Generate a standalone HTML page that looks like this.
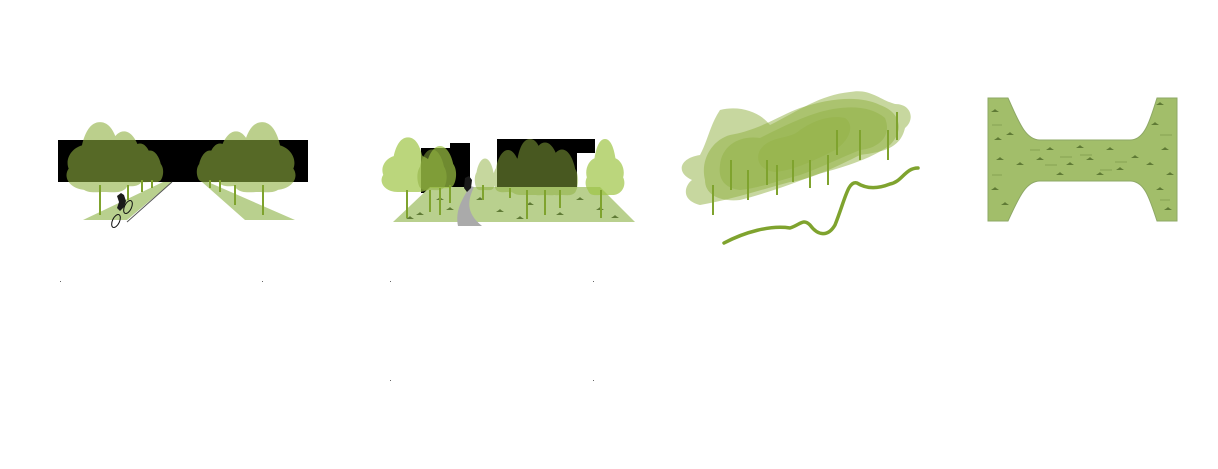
<!DOCTYPE html>
<html><head><meta charset="utf-8"><style>
html,body{margin:0;padding:0;background:#fff;width:1218px;height:469px;overflow:hidden}
svg{display:block}
</style></head><body>
<svg width="1218" height="469" viewBox="0 0 1218 469" xmlns="http://www.w3.org/2000/svg">
<defs>
<g id="tree">
 <path d="M0,-70 C12,-70 17,-55 19,-46 C30,-43 37,-32 33,-22 C40,-12 30,0 14,0 L-14,0 C-30,0 -40,-12 -33,-22 C-37,-32 -30,-43 -19,-46 C-17,-55 -12,-70 0,-70Z"/>
</g>
<g id="tree2">
 <path d="M0,-70 C14,-70 22,-50 24,-40 C32,-30 30,-12 24,-4 C18,2 8,0 0,0 C-8,0 -18,2 -24,-4 C-30,-12 -32,-30 -24,-40 C-22,-50 -14,-70 0,-70Z"/>
</g>
<g id="grass"><path d="M-4,0 L-1,-2 L0,-3 L1,-2 L4,0Z" fill="#5f7a35"/></g>
</defs>

<!-- Panel 1 -->
<rect x="58" y="140" width="250" height="42" fill="#000"/>
<polygon points="83,220 127,220 172,182 163,182" fill="#b9d08e"/>
<polygon points="202,182 208,182 295,220 245,220" fill="#b9d08e"/>
<line x1="127" y1="222" x2="172" y2="182" stroke="#555" stroke-width="1"/>
<g fill="#8fb040" opacity="0.6">
 <use href="#tree" transform="translate(100,190) scale(0.95,0.97)"/>
 <use href="#tree2" transform="translate(104,192) scale(0.9,0.85)"/>
 <use href="#tree2" transform="translate(124,186) scale(0.7,0.78)"/>
 <use href="#tree2" transform="translate(140,182) scale(0.5,0.55)"/>
 <use href="#tree2" transform="translate(150,182) scale(0.45,0.45)"/>
 <use href="#tree" transform="translate(262,190) scale(0.95,0.97)"/>
 <use href="#tree2" transform="translate(258,192) scale(0.9,0.85)"/>
 <use href="#tree2" transform="translate(236,186) scale(0.7,0.78)"/>
 <use href="#tree2" transform="translate(220,182) scale(0.5,0.55)"/>
 <use href="#tree2" transform="translate(210,182) scale(0.45,0.45)"/>
</g>
<g stroke="#7fa32e" stroke-width="2">
 <line x1="100" y1="185" x2="100" y2="215"/><line x1="128" y1="185" x2="128" y2="200"/>
 <line x1="142" y1="180" x2="142" y2="192"/><line x1="152" y1="180" x2="152" y2="188"/>
 <line x1="263" y1="185" x2="263" y2="215"/><line x1="235" y1="185" x2="235" y2="205"/>
 <line x1="220" y1="180" x2="220" y2="192"/><line x1="210" y1="180" x2="210" y2="188"/>
</g>
<g fill="none" stroke="#111" stroke-width="1">
 <ellipse cx="116" cy="221" rx="3.5" ry="7" transform="rotate(25 116 221)"/>
 <ellipse cx="128" cy="207" rx="3.5" ry="7" transform="rotate(25 128 207)"/>
</g>
<path d="M117,196 l4,-3 3,2 2,6 -2,6 -4,4 -3,-3 2,-6z" fill="#1a1a1a"/>

<!-- Panel 2 -->
<polygon points="421,148 450,148 450,143 470,143 470,193 421,193" fill="#000"/>
<polygon points="497,139 595,139 595,153 577,153 577,193 497,193" fill="#000"/>
<polygon points="393,222 635,222 600,187 430,187" fill="#b9d08e"/>
<g>
 <use href="#grass" transform="translate(420,215)"/><use href="#grass" transform="translate(450,210)"/>
 <use href="#grass" transform="translate(500,212)"/><use href="#grass" transform="translate(530,205)"/>
 <use href="#grass" transform="translate(560,215)"/><use href="#grass" transform="translate(600,210)"/>
 <use href="#grass" transform="translate(480,200)"/><use href="#grass" transform="translate(580,200)"/>
 <use href="#grass" transform="translate(520,219)"/><use href="#grass" transform="translate(440,200)"/>
 <use href="#grass" transform="translate(615,218)"/><use href="#grass" transform="translate(410,219)"/>
</g>
<path d="M458,226 C455,210 462,200 470,186 L474,187 C468,200 465,212 482,226Z" fill="#aaa"/>
<g fill="#9fc545" opacity="0.7">
 <use href="#tree" transform="translate(408,192) scale(0.75,0.78)"/>
 <use href="#tree2" transform="translate(412,190) scale(0.6,0.6)"/>
 <use href="#tree2" transform="translate(440,188) scale(0.55,0.6)"/>
 <use href="#tree" transform="translate(605,195) scale(0.55,0.8)"/>
 <use href="#tree2" transform="translate(600,195) scale(0.45,0.55)"/>
</g>
<g fill="#8fb040" opacity="0.5">
 <use href="#tree2" transform="translate(432,190) scale(0.5,0.58)"/>
 <use href="#tree2" transform="translate(485,190) scale(0.35,0.45)"/>
 <use href="#tree2" transform="translate(508,192) scale(0.5,0.6)"/>
 <use href="#tree" transform="translate(530,195) scale(0.65,0.8)"/>
 <use href="#tree2" transform="translate(545,195) scale(0.6,0.75)"/>
 <use href="#tree2" transform="translate(562,195) scale(0.55,0.65)"/>
</g>
<g stroke="#7fa32e" stroke-width="2">
 <line x1="407" y1="190" x2="407" y2="218"/><line x1="430" y1="190" x2="430" y2="212"/>
 <line x1="440" y1="188" x2="440" y2="215"/><line x1="450" y1="185" x2="450" y2="203"/>
 <line x1="483" y1="185" x2="483" y2="200"/><line x1="510" y1="188" x2="510" y2="198"/>
 <line x1="527" y1="190" x2="527" y2="219"/><line x1="545" y1="190" x2="545" y2="215"/>
 <line x1="560" y1="190" x2="560" y2="208"/><line x1="601" y1="190" x2="601" y2="218"/>
</g>
<path d="M465,178 l4,-2 3,4 -1,8 -4,4 -3,-4z" fill="#1a1a1a"/>

<!-- Panel 3 -->
<g fill="#8fb040">
 <path opacity="0.5" d="M720,110 C740,105 760,112 770,125 C800,110 820,95 850,92 C870,88 880,100 895,104 C912,104 915,120 905,128 C900,150 880,152 860,155 C840,165 810,180 790,182 C760,190 730,200 700,205 C680,200 685,185 692,180 C675,172 680,158 700,155 C708,140 710,125 720,110Z"/>
 <path opacity="0.5" d="M705,180 C700,160 712,140 730,135 C760,130 780,115 800,108 C830,98 860,95 880,105 C900,112 905,130 890,145 C870,160 840,168 815,175 C790,185 760,195 740,200 C720,202 705,195 705,180Z"/>
 <path opacity="0.45" d="M720,165 C722,145 740,135 760,138 C780,128 800,118 820,112 C845,105 870,105 885,118 C892,135 880,148 860,150 C840,158 820,168 800,175 C780,180 760,188 740,190 C725,188 718,180 720,165Z"/>
 <path opacity="0.35" d="M760,150 C770,135 790,140 800,130 C815,120 830,115 845,118 C855,125 850,140 835,150 C815,160 795,170 775,172 C760,170 755,160 760,150Z"/>
</g>
<g stroke="#7fa32e" stroke-width="2">
 <line x1="713" y1="185" x2="713" y2="215"/><line x1="731" y1="160" x2="731" y2="190"/>
 <line x1="748" y1="170" x2="748" y2="200"/><line x1="767" y1="160" x2="767" y2="185"/>
 <line x1="777" y1="165" x2="777" y2="195"/><line x1="793" y1="160" x2="793" y2="182"/>
 <line x1="810" y1="160" x2="810" y2="188"/><line x1="828" y1="155" x2="828" y2="185"/>
 <line x1="837" y1="130" x2="837" y2="155"/><line x1="860" y1="130" x2="860" y2="160"/>
 <line x1="888" y1="130" x2="888" y2="160"/><line x1="897" y1="112" x2="897" y2="140"/>
</g>
<path d="M724,243 C745,232 770,225 790,228 C800,225 803,218 810,225 C818,236 828,237 835,225 C845,200 848,180 857,183 C868,190 880,188 890,184 C902,182 905,168 918,168" fill="none" stroke="#7fa32e" stroke-width="3.5" stroke-linecap="round"/>

<!-- Panel 4 -->
<path d="M988,98 L1008,98 C1018,120 1025,140 1040,140 L1130,140 C1145,140 1150,120 1157,98 L1177,98 L1177,221 L1157,221 C1150,200 1145,181 1130,181 L1040,181 C1025,181 1018,200 1008,221 L988,221Z" fill="#a2be6a" stroke="#8ea866" stroke-width="1"/>
<g>
 <use href="#grass" transform="translate(995,112)"/><use href="#grass" transform="translate(1010,135)"/>
 <use href="#grass" transform="translate(1000,160)"/><use href="#grass" transform="translate(1020,165)"/>
 <use href="#grass" transform="translate(995,190)"/><use href="#grass" transform="translate(1005,205)"/>
 <use href="#grass" transform="translate(1050,150)"/><use href="#grass" transform="translate(1070,165)"/>
 <use href="#grass" transform="translate(1090,160)"/><use href="#grass" transform="translate(1110,150)"/>
 <use href="#grass" transform="translate(1060,175)"/><use href="#grass" transform="translate(1120,170)"/>
 <use href="#grass" transform="translate(1160,105)"/><use href="#grass" transform="translate(1155,125)"/>
 <use href="#grass" transform="translate(1165,150)"/><use href="#grass" transform="translate(1150,165)"/>
 <use href="#grass" transform="translate(1160,190)"/><use href="#grass" transform="translate(1168,210)"/>
 <use href="#grass" transform="translate(1040,160)"/><use href="#grass" transform="translate(1100,175)"/>
 <use href="#grass" transform="translate(1135,158)"/><use href="#grass" transform="translate(1080,148)"/>
 <use href="#grass" transform="translate(998,140)"/><use href="#grass" transform="translate(1170,175)"/>
</g>
<g stroke="#7f9a4f" stroke-width="0.8">
 <line x1="1030" y1="150" x2="1040" y2="150"/><line x1="1080" y1="155" x2="1092" y2="155"/>
 <line x1="1100" y1="170" x2="1112" y2="170"/><line x1="1045" y1="165" x2="1057" y2="165"/>
 <line x1="992" y1="125" x2="1002" y2="125"/><line x1="1160" y1="135" x2="1172" y2="135"/>
 <line x1="1060" y1="157" x2="1072" y2="157"/><line x1="1115" y1="162" x2="1127" y2="162"/>
 <line x1="992" y1="175" x2="1002" y2="175"/><line x1="1160" y1="200" x2="1170" y2="200"/>
</g>

<!-- tiny dots -->
<g fill="#666">
 <rect x="60" y="281" width="1" height="1"/><rect x="262" y="281" width="1" height="1"/>
 <rect x="390" y="281" width="1" height="1"/><rect x="593" y="281" width="1" height="1"/>
 <rect x="390" y="380" width="1" height="1"/><rect x="593" y="380" width="1" height="1"/>
</g>
</svg>
</body></html>
